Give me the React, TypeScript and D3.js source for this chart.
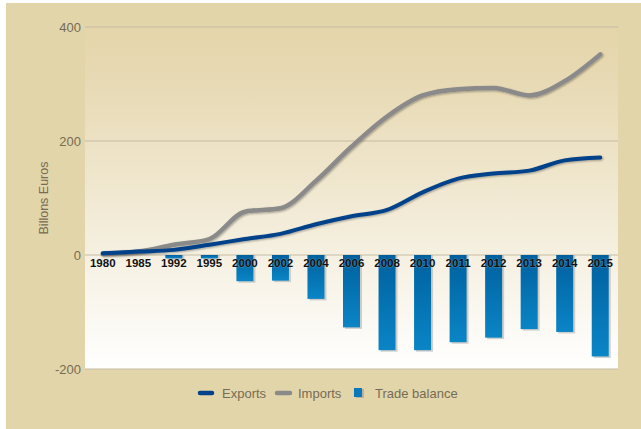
import React from "react";
import * as d3 from "d3";

const years = ["1980","1985","1992","1995","2000","2002","2004","2006","2008","2010","2011","2012","2013","2014","2015"];
const exportsV = [3, 6, 9, 18, 28, 37, 54, 68, 79, 110, 134, 143, 148, 166, 171];
const importsV = [2, 6, 18, 28, 76, 82, 130, 190, 243, 280, 291, 293, 280, 305, 352];
const balanceV = [0, 0, -6, -6, -46, -45, -77, -127, -167, -167, -153, -145, -130, -135, -178];
const yTicks = [400, 200, 0, -200];

const W = 641, H = 429;
const L = 85, R = 618, T = 27, B = 369;

export default function App() {
  const x = d3.scaleBand<string>().domain(years).range([L, R]).paddingInner(0).paddingOuter(0);
  const y = d3.scaleLinear().domain([-200, 400]).range([B, T]);
  const cx = (d: string) => (x(d) as number) + x.bandwidth() / 2;
  const line = d3.line<number>().x((_, i) => cx(years[i])).y((v) => y(v)).curve(d3.curveMonotoneX);
  const bw = 17;
  const font = "'Liberation Sans', Arial, sans-serif";
  return (
    <svg width={W} height={H} style={{ position: "absolute", left: 0, top: 0 }} fontFamily={font}>
      <defs>
        <linearGradient id="plotg" x1="0" y1="0" x2="0" y2="1">
          <stop offset="0" stopColor="#e5d5aa" />
          <stop offset="0.15" stopColor="#e7d9b3" />
          <stop offset="1" stopColor="#ffffff" />
        </linearGradient>
        <linearGradient id="barg" x1="0" y1="0" x2="0" y2="1">
          <stop offset="0" stopColor="#00609e" />
          <stop offset="1" stopColor="#0a85c6" />
        </linearGradient>
        <filter id="sh" x="-10%" y="-10%" width="120%" height="130%">
          <feGaussianBlur in="SourceAlpha" stdDeviation="1.2" />
          <feOffset dx="0.5" dy="1" result="b" />
          <feComponentTransfer><feFuncA type="linear" slope="0.35" /></feComponentTransfer>
          <feMerge><feMergeNode /><feMergeNode in="SourceGraphic" /></feMerge>
        </filter>
      </defs>
      <rect x={6} y={3} width={W - 6} height={H - 3} fill="#e3d5aa" />
      <rect x={L} y={T} width={R - L} height={B - T} fill="url(#plotg)" />
      {yTicks.map((t) => (
        <g key={t}>
          <line x1={L} x2={R} y1={y(t)} y2={y(t)} stroke="#c4bba3" strokeWidth={1.2} />
          <text x={81} y={y(t)} dy="0.35em" textAnchor="end" fontSize={13} fill="#756c55">{t}</text>
        </g>
      ))}
      <text transform={`translate(48,${(T + B) / 2}) rotate(-90)`} textAnchor="middle" fontSize={12.5} fill="#756c55">Billons Euros</text>
      {years.map((yr, i) => {
        const v = balanceV[i];
        if (v === 0) return null;
        const x0 = cx(yr) - bw / 2;
        const h = y(v) - y(0);
        return (
          <g key={yr}>
            <rect x={x0 + 2} y={y(0)} width={bw} height={h + 1.5} fill="#a9a9a9" opacity={0.55} />
            <rect x={x0} y={y(0)} width={bw} height={h} fill="url(#barg)" />
          </g>
        );
      })}
      <path d={line(importsV) || ""} fill="none" stroke="#8a8a8a" strokeWidth={4.5} strokeLinecap="round" filter="url(#sh)" />
      <path d={line(exportsV) || ""} fill="none" stroke="#00428a" strokeWidth={4} strokeLinecap="round" filter="url(#sh)" />
      {years.map((yr) => (
        <text key={yr} x={cx(yr)} y={267} textAnchor="middle" fontSize={11.5} fontWeight="bold" fill="#111" style={{ paintOrder: "stroke" }} stroke="rgba(255,255,255,0.25)" strokeWidth={1}>{yr}</text>
      ))}
      <g fontSize={13} fill="#756c55">
        <line x1={200} x2={212} y1={393} y2={393} stroke="#00428a" strokeWidth={4.5} strokeLinecap="round" />
        <text x={222} y={393} dy="0.35em">Exports</text>
        <line x1={277} x2={290} y1={393} y2={393} stroke="#8a8a8a" strokeWidth={4.5} strokeLinecap="round" />
        <text x={298} y={393} dy="0.35em">Imports</text>
        <rect x={356} y={389} width={8} height={9} fill="#b7b1a0" />
        <rect x={354} y={388} width={8} height={9} fill="#0a78bb" />
        <text x={375} y={393} dy="0.35em">Trade balance</text>
      </g>
    </svg>
  );
}
